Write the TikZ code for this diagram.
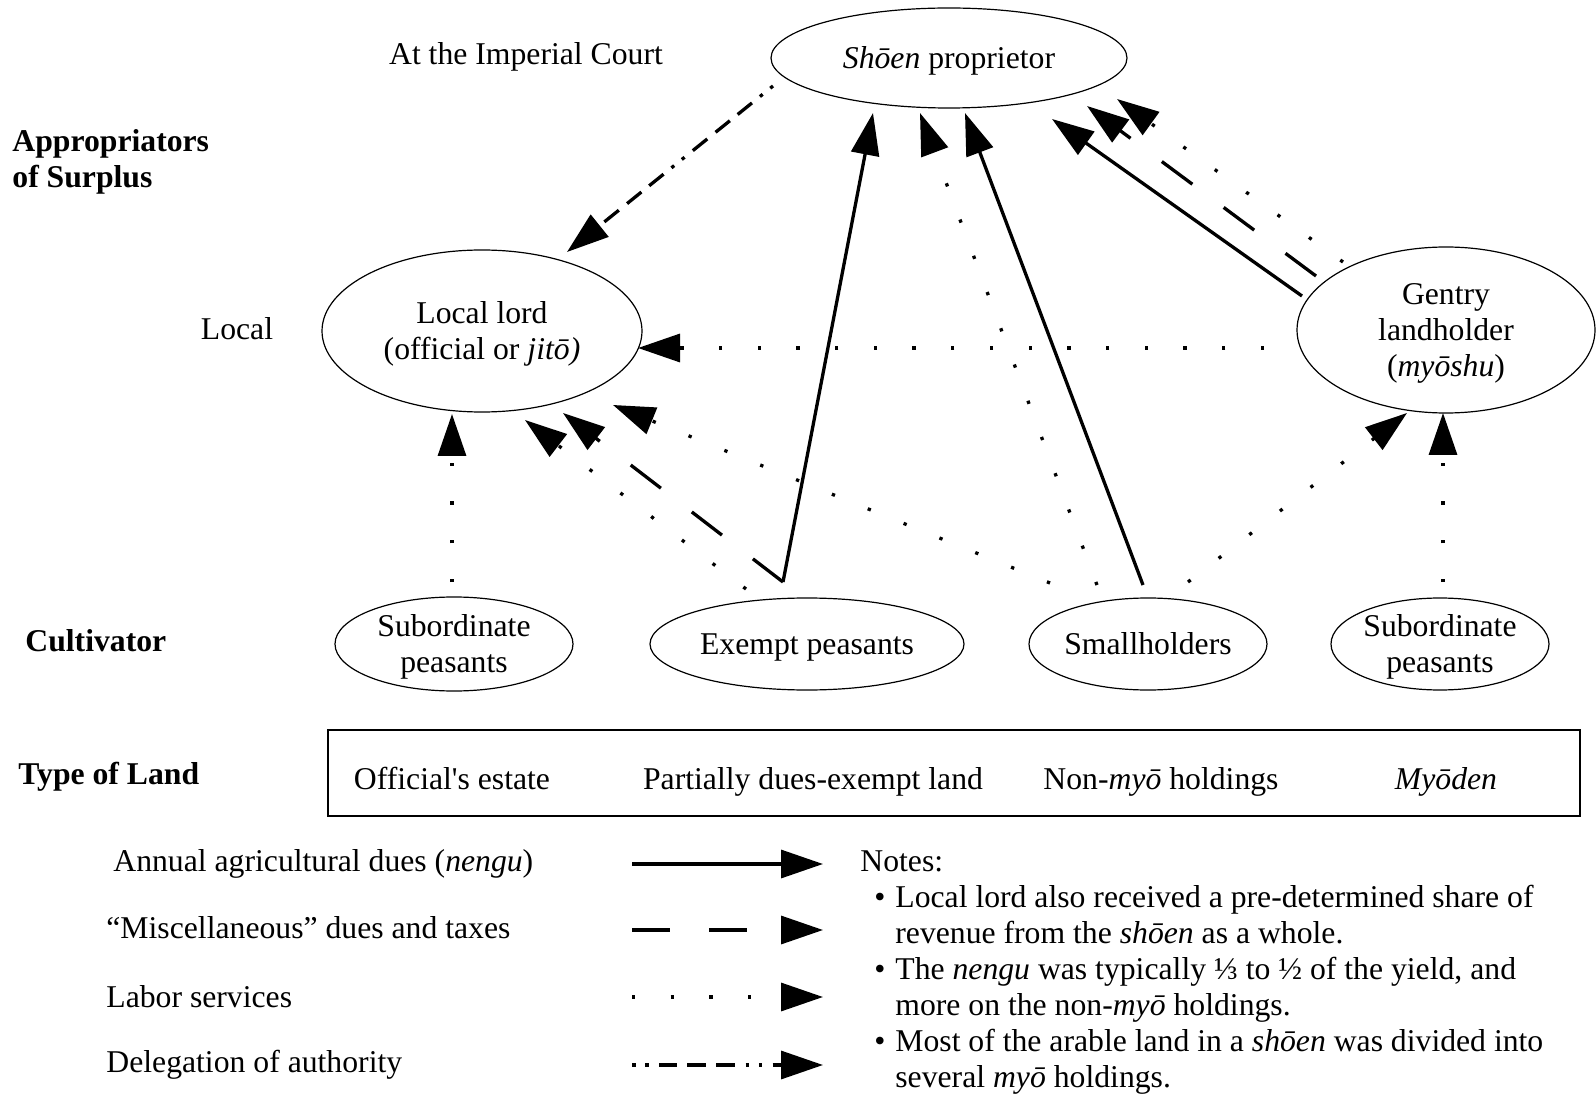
\documentclass[tikz,border=0pt]{standalone}
\usepackage{fontspec}
\setmainfont{Liberation Serif}
\usetikzlibrary{shapes.geometric,arrows.meta,calc}
\begin{document}
\begin{tikzpicture}[x=0.5pt,y=-0.5pt,
  every node/.style={font=\fontsize{15.85}{18}\selectfont, inner sep=0pt},
  oval/.style={draw, ellipse, line width=0.6pt, inner sep=0pt, align=center, text depth=0pt},
  conn/.style={line width=1.65pt, -{Triangle[length=21pt,width=14pt]}},
  nengu/.style={conn},
  misc/.style={conn, dash pattern=on 19pt off 19.5pt},
  labor/.style={conn, dash pattern=on 1.65pt off 17.7pt},
  deleg/.style={conn, dash pattern=on 1.75pt off 4.9pt on 1.75pt off 5.1pt on 9.2pt off 5pt on 9.2pt off 5.3pt on 9.3pt off 5.3pt},
  lbl/.style={anchor=base west},
  headlbl/.style={font=\fontsize{15.85}{18}\selectfont\bfseries},
]
\useasboundingbox (0,0) rectangle (1596,1096);

% row labels
\node[anchor=base] (court) at (526,65) {At the Imperial Court};
\node[headlbl, anchor=west, align=left] (approp) at (12,162) {Appropriators\\of Surplus};
\node[anchor=base] (local) at (237,340) {Local};
\node[headlbl, anchor=base west] (cultiv) at (25,651) {Cultivator};
\node[headlbl, anchor=base west] (typeland) at (18,784) {Type of Land};

% appropriators
\node[oval, minimum width=178pt, minimum height=50pt] (shoen) at (949,58) {\textit{Shōen} proprietor};
\node[oval, minimum width=160pt, minimum height=81pt] (lord) at (482,331) {Local lord\\(official or \textit{jitō)}};
\node[oval, minimum width=149pt, minimum height=83pt] (gentry) at (1446,330) {Gentry\\landholder\\(\textit{myōshu})};

% cultivators
\node[oval, minimum width=119pt, minimum height=47pt] (sub1) at (454,644) {Subordinate\\peasants};
\node[oval, minimum width=157pt, minimum height=46pt] (exempt) at (807,644) {Exempt peasants};
\node[oval, minimum width=119pt, minimum height=46pt] (small) at (1148,644) {Smallholders};
\node[oval, minimum width=109pt, minimum height=46pt] (sub2) at (1440,644) {Subordinate\\peasants};

% type of land box
\node[draw, line width=0.6pt, minimum width=626pt, minimum height=43pt] (landbox) at (954,773) {};
\node[anchor=base] (land1) at (452,789) {Official\textquotesingle s estate};
\node[anchor=base] (land2) at (813,789) {Partially dues-exempt land};
\node[anchor=base] (land3) at (1161,789) {Non-\textit{myō} holdings};
\node[anchor=base] (land4) at (1446,789) {\textit{Myōden}};

% connectors
\draw[deleg] ($(shoen)+(-176,28)$) -- ($(lord)+(85,-79)$);
\draw[labor] ($(gentry)+(-182,18)$) -- ($(lord)+(156,17)$);
\draw[nengu] ($(gentry)+(-144,-34)$) -- ($(shoen)+(103,61)$);
\draw[misc]  ($(gentry)+(-130,-54)$) -- ($(shoen)+(138,48)$);
\draw[labor] ($(gentry)+(-103,-68)$) -- ($(shoen)+(168,41)$);
\draw[nengu] ($(exempt)+(-24,-62)$) -- ($(shoen)+(-76,55)$);
\draw[misc]  ($(exempt)+(-24,-62)$) -- ($(lord)+(81,82)$);
\draw[labor] ($(exempt)+(-61,-55)$) -- ($(lord)+(43,89)$);
\draw[labor] ($(small)+(-98,-61)$) -- ($(lord)+(131,74)$);
\draw[labor] ($(small)+(-51,-59)$) -- ($(shoen)+(-29,55)$);
\draw[nengu] ($(small)+(-5,-59)$) -- ($(shoen)+(16,55)$);
\draw[labor] ($(small)+(40,-62)$) -- ($(gentry)+(-39,83)$);
\draw[labor] ($(sub1)+(-2,-62)$) -- ($(lord)+(-30,83)$);
\draw[labor] ($(sub2)+(3,-62)$) -- ($(gentry)+(-3,83)$);

% legend
\node[lbl] (leg1) at (113,871) {Annual agricultural dues (\textit{nengu})};
\node[lbl] (leg2) at (106,938) {“Miscellaneous” dues and taxes};
\node[lbl] (leg3) at (106,1007) {Labor services};
\node[lbl] (leg4) at (106,1072) {Delegation of authority};
\coordinate (l1a) at (632,864); \coordinate (l1b) at (823,864);
\coordinate (l2a) at (632,930); \coordinate (l2b) at (823,930);
\coordinate (l3a) at (632,997); \coordinate (l3b) at (823,997);
\coordinate (l4a) at (632,1065); \coordinate (l4b) at (823,1065);
\draw[nengu] (l1a) -- (l1b);
\draw[misc] (l2a) -- (l2b);
\draw[labor] (l3a) -- (l3b);
\draw[deleg] (l4a) -- (l4b);

% notes
\node[anchor=north west, align=left] (notes) at (860,850) {Notes:\\
\hspace*{7pt}\makebox[10.5pt][l]{•}Local lord also received a pre-determined share of\\
\hspace*{17.5pt}revenue from the \textit{shōen} as a whole.\\
\hspace*{7pt}\makebox[10.5pt][l]{•}The \textit{nengu} was typically ⅓ to ½ of the yield, and\\
\hspace*{17.5pt}more on the non-\textit{myō} holdings.\\
\hspace*{7pt}\makebox[10.5pt][l]{•}Most of the arable land in a \textit{shōen} was divided into\\
\hspace*{17.5pt}several \textit{myō} holdings.};
\end{tikzpicture}
\end{document}
